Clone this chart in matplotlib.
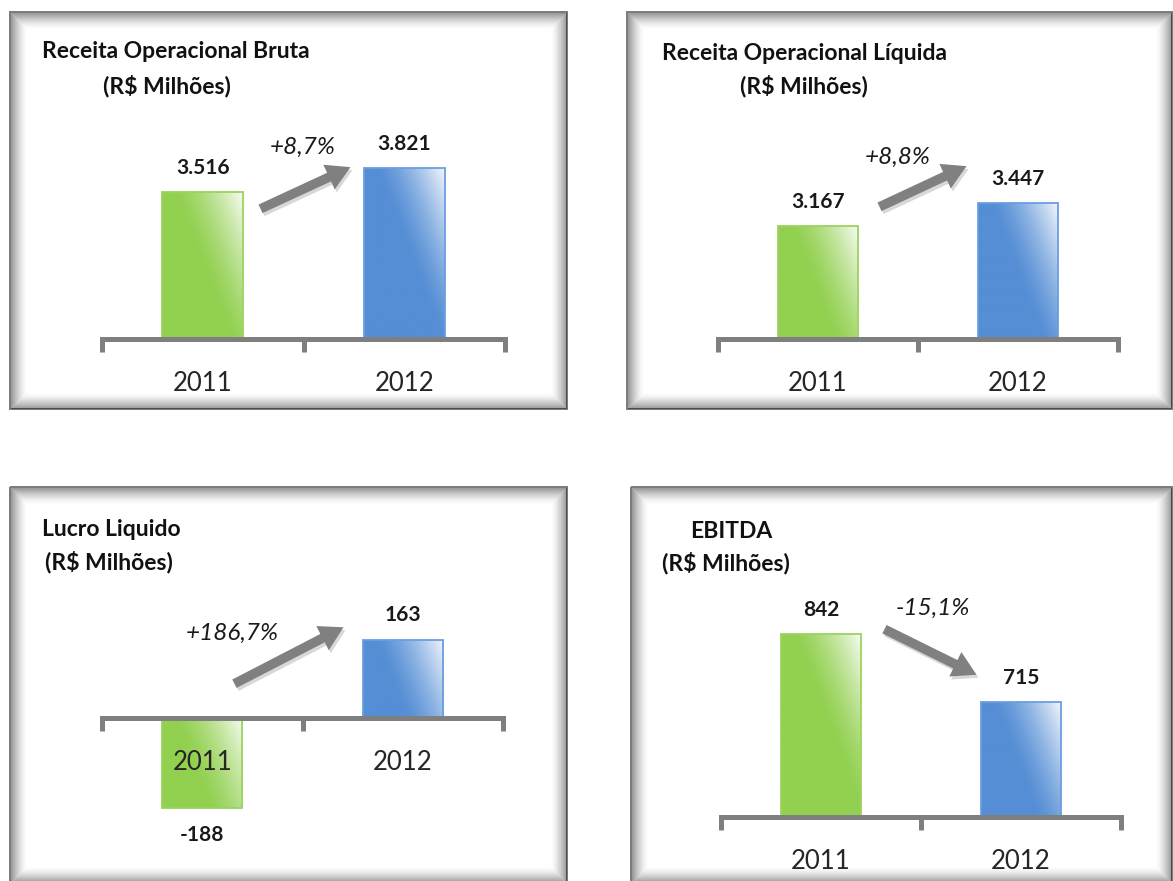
import numpy as np
import matplotlib
matplotlib.use("Agg")
import matplotlib.pyplot as plt
from matplotlib.patches import Rectangle, FancyArrowPatch

plt.rcParams['font.family'] = ['Lato', 'DejaVu Sans']

# dados (R$ milhões)
anos = ["2011", "2012"]
receita_bruta = [3516, 3821]
receita_liquida = [3167, 3447]
lucro_liquido = [-188, 163]
ebitda = [842, 715]

titulos = ["Receita Operacional Bruta", "Receita Operacional Líquida", "Lucro Liquido", "EBITDA"]
subtitulo = "(R$ Milhões)"
variacoes = ["+8,7%", "+8,8%", "+186,7%", "-15,1%"]
series = [receita_bruta, receita_liquida, lucro_liquido, ebitda]
minimo_eixo = [1650, 1790, 0, 500]   # minimo do eixo y de cada grafico (Excel)

W, H = 1173, 881
fig = plt.figure(figsize=(W / 100, H / 100), dpi=100)
fig.patch.set_facecolor("white")

# camada de fundo em pixels (molduras, titulos, setas)
bg = fig.add_axes([0, 0, 1, 1])
bg.set_xlim(0, W)
bg.set_ylim(H, 0)
bg.axis("off")

# layout de cada painel em pixels
molduras = [(10, 12, 567, 409), (627, 12, 1172, 409), (10, 487, 567, 883), (631, 487, 1172, 883)]
eixos_px = [(102, 505, 339), (718, 1118, 339), (102, 503, 718), (721, 1121, 817)]
px_por_unidade = [0.0787, 0.0821, 0.48, 0.535]
pos_titulo = [((42, 52), (103, 86)), ((662, 54), (740, 86)), ((42, 529), (45, 562)), ((690, 532), (662, 563))]
setas = [((258, 210), (353, 166)), ((877, 208), (969, 165)), ((232, 685), (346, 626)), ((882, 628), (979, 676))]
pos_variacao = [(303, 147), (898, 157), (232, 633), (933, 608)]

verde = np.array([146, 208, 80]) / 255
azul = np.array([85, 142, 213]) / 255
cores = [verde, azul]
bordas = ["#9bd35e", "#6a9ee0"]
cinza = "#7f7f7f"


def moldura(x0, y0, x1, y1):
    bg.add_patch(Rectangle((x0, y0), x1 - x0, y1 - y0, fill=False, ec="#7a7a7a", lw=1.4))
    for i in range(1, 17):
        a = 0.42 * (1 - i / 17) ** 1.5
        bg.add_patch(Rectangle((x0 + i, y0 + i), x1 - x0 - 2 * i, y1 - y0 - 2 * i,
                               fill=False, ec="black", alpha=a, lw=0.75))


def gradiente(cor, wpx, hpx):
    x = np.linspace(0, 1, max(int(wpx), 2))
    t = np.linspace(0, hpx / wpx, max(int(hpx), 2))
    X, T = np.meshgrid(x, t)
    L = np.clip((X - 0.15) / 0.85 - T / 2.2, 0, 1) ** 1.4
    img = cor[None, None, :] * (1 - 0.92 * L[..., None]) + 0.92 * L[..., None]
    return img


for k in range(4):
    valores = series[k]
    x0, x1, yax = eixos_px[k]
    fx0, fy0, fx1, fy1 = molduras[k]
    moldura(fx0, fy0, fx1, fy1)

    top_px, bot_px = fy0 + 15, fy1 - 10
    ax = fig.add_axes([x0 / W, 1 - bot_px / H, (x1 - x0) / W, (bot_px - top_px) / H])
    ax.set_facecolor("none")
    s = px_por_unidade[k]
    base = minimo_eixo[k]

    largura = 0.4
    bar_px = largura * (x1 - x0) / 2
    for i, v in enumerate(valores):
        barra = ax.bar(i, v - base, bottom=base, width=largura, facecolor="none",
                       edgecolor=bordas[i], linewidth=1.3, zorder=2)[0]
        hpx = abs(v - base) * s
        img = gradiente(cores[i], bar_px, hpx)
        lo, hi = min(v, base), max(v, base)
        im = ax.imshow(img, extent=(i - largura / 2, i + largura / 2, lo, hi),
                       aspect="auto", origin="upper", zorder=1, interpolation="bilinear")
        im.set_clip_path(barra)
        rot = f"{v:,}".replace(",", ".")
        off = 17.5 if v >= 0 else -19.5
        ax.annotate(rot, xy=(i, v), xytext=(0, off), textcoords="offset points",
                    ha="center", va="center", fontsize=15, fontweight="bold", color="#1a1a1a")
        ax.annotate(anos[i], xy=(i, base), xytext=(0, -32), textcoords="offset points",
                    ha="center", va="center", fontsize=18.5, color="#262626", zorder=4)

    ax.set_xlim(-0.5, 1.5)
    ax.set_ylim(base - (bot_px - yax) / s, base + (yax - top_px) / s)
    for lado in ["left", "right", "top"]:
        ax.spines[lado].set_visible(False)
    ax.spines["bottom"].set_position(("data", base))
    ax.spines["bottom"].set_color(cinza)
    ax.spines["bottom"].set_linewidth(3.6)
    ax.spines["bottom"].set_capstyle("projecting")
    ax.spines["bottom"].set_zorder(3)
    ax.set_xticks([-0.5, 0.5, 1.5])
    ax.tick_params(axis="x", length=9.4, width=3.6, color=cinza, direction="out", labelbottom=False)
    ax.set_yticks([])

    # titulos
    (tx, ty), (sx, sy) = pos_titulo[k]
    bg.text(tx, ty, titulos[k], ha="left", va="center", fontsize=16.5, fontweight="bold", color="#111111")
    bg.text(sx, sy, subtitulo, ha="left", va="center", fontsize=16.5, fontweight="bold", color="#111111")

    # seta de variacao
    (ax0, ay0), (ax1, ay1) = setas[k]
    estilo = "simple,head_length=1.0,head_width=1.15,tail_width=0.4"
    bg.add_patch(FancyArrowPatch((ax0 + 2, ay0 + 3), (ax1 + 2, ay1 + 3), arrowstyle=estilo,
                                 mutation_scale=17, color="#c8c8c8", lw=0, alpha=0.7))
    bg.add_patch(FancyArrowPatch((ax0, ay0), (ax1, ay1), arrowstyle=estilo,
                                 mutation_scale=17, color="#808080", lw=0))
    vx, vy = pos_variacao[k]
    bg.text(vx, vy, variacoes[k], ha="center", va="center", fontsize=17.5, style="italic", color="#1a1a1a")

fig.savefig("out.png", dpi=100)
